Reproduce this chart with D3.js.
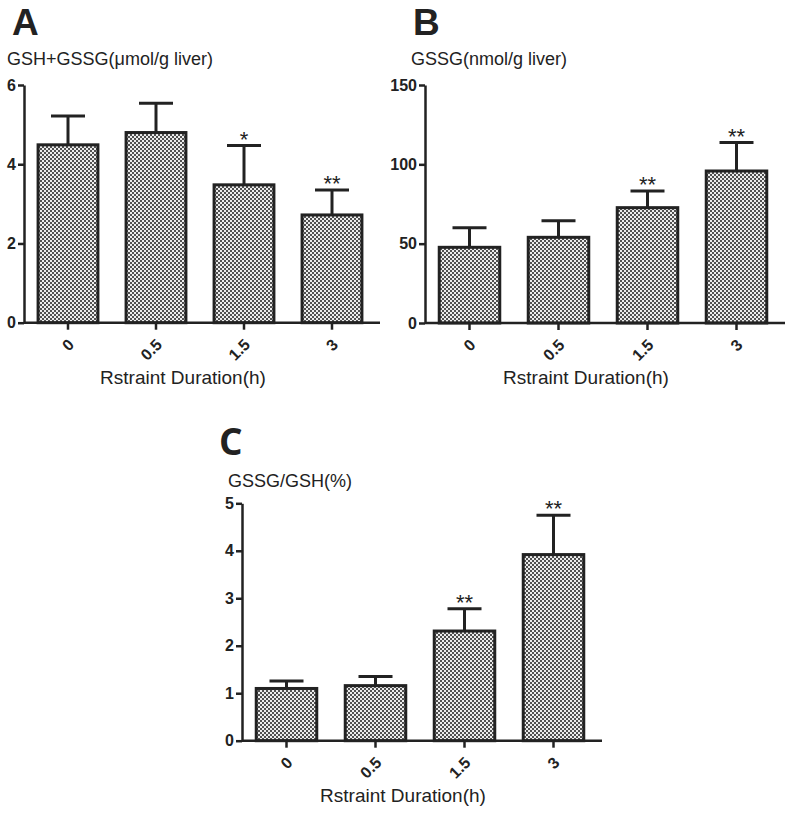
<!DOCTYPE html>
<html>
<head>
<meta charset="utf-8">
<script src="https://cdn.jsdelivr.net/npm/d3@7"></script>
<style>
  body { margin: 0; background: #fff; }
  svg text { font-family: "Liberation Sans", Arial, sans-serif; fill: #222; }
</style>
</head>
<body>
<div class="container"></div>
<script>
// categories and values
const durations = ["0", "0.5", "1.5", "3"];

const totalMean = [4.49, 4.80, 3.48, 2.72];
const totalErr  = [5.22, 5.54, 4.47, 3.35];
const totalStars = ["", "", "*", "**"];
const totalTicks = [0, 2, 4, 6];

const gssgMean = [47.7, 54.0, 72.7, 95.8];
const gssgErr  = [60.1, 64.5, 83.2, 113.7];
const gssgStars = ["", "", "**", "**"];
const gssgTicks = [0, 50, 100, 150];

const ratioMean = [1.10, 1.16, 2.31, 3.92];
const ratioErr  = [1.26, 1.35, 2.78, 4.75];
const ratioStars = ["", "", "**", "**"];
const ratioTicks = [0, 1, 2, 3, 4, 5];

const w = 790;
const h = 813;

const svg = d3.select(".container")
              .append("svg")
              .attr("width", w)
              .attr("height", h)

// checker pattern used for the bar fill
const defs = svg.append("defs")
const pat = defs.append("pattern")
                .attr("id", "checker")
                .attr("patternUnits", "userSpaceOnUse")
                .attr("width", 4)
                .attr("height", 4)
pat.append("rect").attr("width", 4).attr("height", 4).attr("fill", "#ececec")
pat.append("rect").attr("width", 2).attr("height", 2).attr("fill", "#505050")
pat.append("rect").attr("x", 2).attr("y", 2).attr("width", 2).attr("height", 2).attr("fill", "#505050")

const drawPanel = (opt)=>{
    const g = svg.append("g")

    const xScale = d3.scaleBand()
                     .domain(durations)
                     .range([opt.x0, opt.x1])
    const yScale = d3.scaleLinear()
                     .domain([0, opt.max])
                     .range([opt.y0, opt.y1])
    const barW = xScale.bandwidth() * 0.68
    const mid = (c)=> xScale(c) + xScale.bandwidth()/2

    const data = durations.map((d, i)=>({
        cat: d, mean: opt.mean[i], err: opt.err[i], star: opt.stars[i]
    }))

    // error bars (drawn first so the bar outline sits over them)
    g.selectAll(".err")
     .data(data)
     .enter()
     .append("line")
     .attr("x1", (d)=> mid(d.cat))
     .attr("x2", (d)=> mid(d.cat))
     .attr("y1", (d)=> yScale(d.mean))
     .attr("y2", (d)=> yScale(d.err))
     .attr("stroke", "#222")
     .attr("stroke-width", 3)
    g.selectAll(".cap")
     .data(data)
     .enter()
     .append("line")
     .attr("x1", (d)=> mid(d.cat) - 17)
     .attr("x2", (d)=> mid(d.cat) + 17)
     .attr("y1", (d)=> yScale(d.err))
     .attr("y2", (d)=> yScale(d.err))
     .attr("stroke", "#222")
     .attr("stroke-width", 3)

    g.selectAll(".bar")
     .data(data)
     .enter()
     .append("rect")
     .attr("x", (d)=> xScale(d.cat) + (xScale.bandwidth() - barW)/2)
     .attr("y", (d)=> yScale(d.mean))
     .attr("width", barW)
     .attr("height", (d)=> yScale(0) - yScale(d.mean))
     .attr("fill", "url(#checker)")
     .attr("stroke", "#222")
     .attr("stroke-width", 3)

    g.selectAll(".star")
     .data(data)
     .enter()
     .append("text")
     .attr("x", (d)=> mid(d.cat))
     .attr("y", (d)=> yScale(d.err) + 1)
     .attr("text-anchor", "middle")
     .style("font-size", "22px")
     .text((d)=> d.star)

    // axes
    const xAxis = d3.axisBottom(xScale).tickSize(7).tickSizeOuter(0)
    const xg = g.append("g")
                .attr("transform", "translate(0," + opt.y0 + ")")
                .call(xAxis)
    xg.select(".domain").attr("stroke", "#222").attr("stroke-width", 2.5)
      .attr("d", "M" + opt.x0 + ",0H" + (opt.x1 + 4))
    xg.selectAll(".tick line").attr("stroke", "#222").attr("stroke-width", 2.5)
    xg.selectAll(".tick text")
      .attr("transform", "translate(3,19) rotate(-45)")
      .attr("text-anchor", "end")
      .attr("x", 0).attr("y", 0).attr("dy", "0.35em")
      .style("font-size", "16px")
      .style("font-weight", "bold")
      .style("font-family", "'Liberation Sans', Arial, sans-serif")
      .attr("fill", "#222")

    const yAxis = d3.axisLeft(yScale).tickValues(opt.ticks)
                    .tickFormat(d3.format("d")).tickSize(6).tickSizeOuter(0)
    const yg = g.append("g")
                .attr("transform", "translate(" + opt.x0 + ",0)")
                .call(yAxis)
    yg.select(".domain").attr("stroke", "#222").attr("stroke-width", 2.5)
    yg.selectAll(".tick line").attr("stroke", "#222").attr("stroke-width", 2.5)
    yg.selectAll(".tick text")
      .attr("x", -8)
      .style("font-size", "16px")
      .style("font-weight", "bold")
      .style("font-family", "'Liberation Sans', Arial, sans-serif")
      .attr("fill", "#222")

    // panel letter, unit label and x title
    g.append("text")
     .attr("x", opt.letterX)
     .attr("y", opt.letterY)
     .style("font-family", opt.letterFont)
     .style("font-weight", "bold")
     .style("font-size", "37px")
     .attr("fill", "#111")
     .text(opt.letter)
    g.append("text")
     .attr("x", opt.labelX)
     .attr("y", opt.labelY)
     .style("font-size", "18px")
     .text(opt.label)
    g.append("text")
     .attr("x", (opt.x0 + opt.x1)/2 - 17)
     .attr("y", opt.y0 + 61)
     .attr("text-anchor", "middle")
     .style("font-size", "19px")
     .text("Rstraint Duration(h)")
}

drawPanel({
    x0: 24, x1: 376, y0: 322.7, y1: 85, max: 6,
    mean: totalMean, err: totalErr, stars: totalStars, ticks: totalTicks,
    letter: "A", letterX: 12, letterY: 35, letterFont: "'Liberation Sans', Arial, sans-serif",
    label: "GSH+GSSG(\u03bcmol/g liver)", labelX: 7, labelY: 65
})
drawPanel({
    x0: 425, x1: 781, y0: 323, y1: 85, max: 150,
    mean: gssgMean, err: gssgErr, stars: gssgStars, ticks: gssgTicks,
    letter: "B", letterX: 413, letterY: 35, letterFont: "'Liberation Sans', Arial, sans-serif",
    label: "GSSG(nmol/g liver)", labelX: 411, labelY: 65
})
drawPanel({
    x0: 242, x1: 598, y0: 740.7, y1: 503.3, max: 5,
    mean: ratioMean, err: ratioErr, stars: ratioStars, ticks: ratioTicks,
    letter: "C", letterX: 219, letterY: 455, letterFont: "'Open Sans', sans-serif",
    label: "GSSG/GSH(%)", labelX: 228, labelY: 487
})
</script>
</body>
</html>
